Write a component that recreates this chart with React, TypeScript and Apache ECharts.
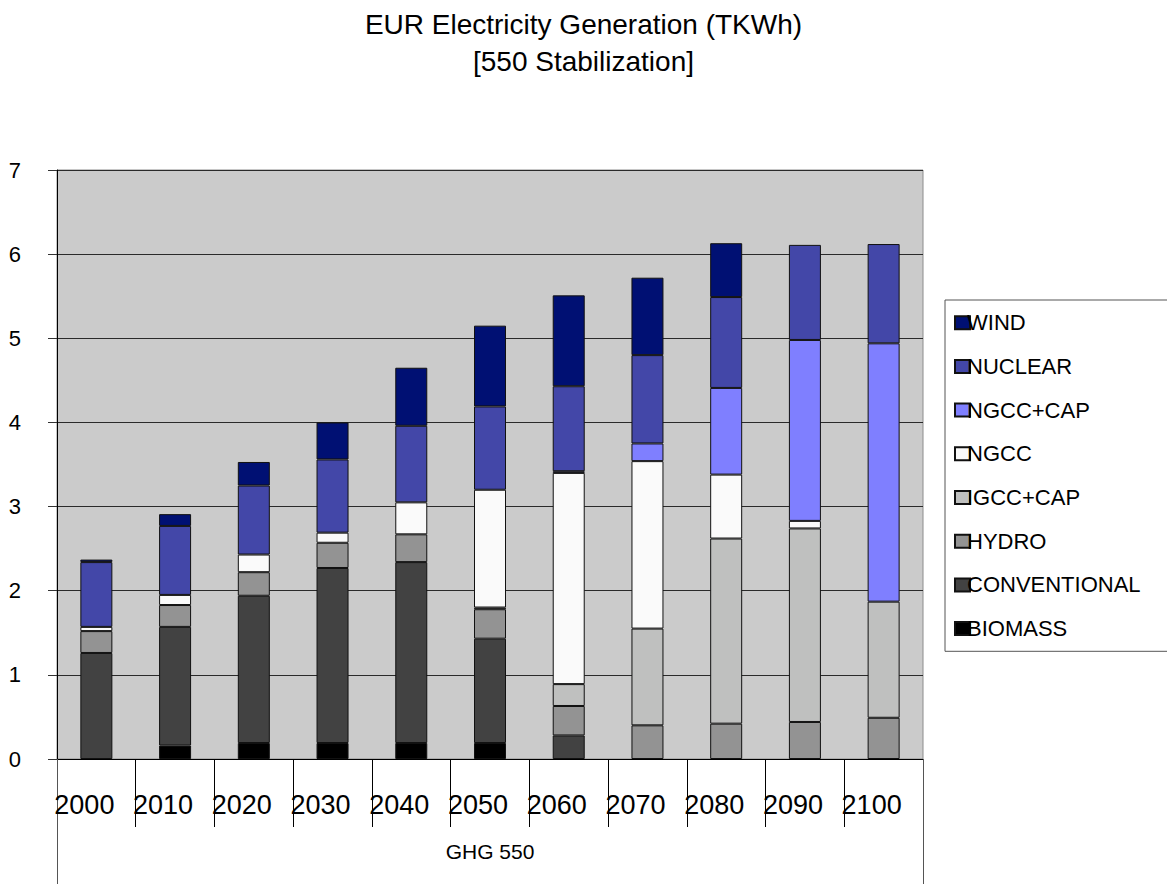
import React, { useEffect, useRef } from "react";
import * as echarts from "echarts";

const years = ["2000", "2010", "2020", "2030", "2040", "2050", "2060", "2070", "2080", "2090", "2100"];
const groupLabel = ["GHG 550"];
const yTicks = [0, 1, 2, 3, 4, 5, 6, 7];

const biomass = [0, 0.16, 0.19, 0.19, 0.19, 0.19, 0, 0, 0, 0, 0];
const conventional = [1.26, 1.41, 1.75, 2.08, 2.15, 1.24, 0.28, 0, 0, 0, 0];
const hydro = [0.26, 0.26, 0.28, 0.3, 0.33, 0.35, 0.35, 0.4, 0.42, 0.44, 0.49];
const igccCap = [0, 0, 0, 0, 0, 0.02, 0.26, 1.15, 2.2, 2.3, 1.38];
const ngcc = [0.05, 0.12, 0.21, 0.12, 0.38, 1.4, 2.51, 1.99, 0.76, 0.09, 0];
const ngccCap = [0, 0, 0, 0, 0, 0, 0.02, 0.21, 1.03, 2.15, 3.07];
const nuclear = [0.77, 0.82, 0.82, 0.87, 0.91, 0.99, 1.01, 1.05, 1.08, 1.13, 1.18];
const wind = [0.03, 0.14, 0.28, 0.44, 0.69, 0.96, 1.08, 0.92, 0.64, 0, 0];

const seriesDefs = [
  { name: "BIOMASS", data: biomass, color: "#000000" },
  { name: "CONVENTIONAL", data: conventional, color: "#424242" },
  { name: "HYDRO", data: hydro, color: "#939393" },
  { name: "IGCC+CAP", data: igccCap, color: "#bfc0bf" },
  { name: "NGCC", data: ngcc, color: "#fafafa" },
  { name: "NGCC+CAP", data: ngccCap, color: "#7f7fff" },
  { name: "NUCLEAR", data: nuclear, color: "#4347a8" },
  { name: "WIND", data: wind, color: "#001073" },
];

const legendOrder = ["WIND", "NUCLEAR", "NGCC+CAP", "NGCC", "IGCC+CAP", "HYDRO", "CONVENTIONAL", "BIOMASS"];

const FONT = "Liberation Sans";

export default function App() {
  const ref = useRef<HTMLDivElement>(null);
  useEffect(() => {
    if (!ref.current) return;
    const chart = echarts.init(ref.current, null, { renderer: "svg" });
    chart.setOption({
      animation: false,
      backgroundColor: "#ffffff",
      title: {
        text: "EUR Electricity Generation (TKWh)\n[550 Stabilization]",
        left: "center",
        top: 6,
        padding: 0,
        textStyle: { fontFamily: FONT, fontSize: 28, fontWeight: "normal", color: "#000", lineHeight: 37 },
      },
      legend: {
        orient: "vertical",
        left: 945,
        top: 300,
        data: legendOrder,
        icon: "rect",
        itemWidth: 15,
        itemHeight: 13,
        itemGap: 21.7,
        padding: [11.7, 120, 11.7, 9],
        borderColor: "#555",
        borderWidth: 1,
        backgroundColor: "#fff",
        textStyle: { fontFamily: FONT, fontSize: 22, color: "#000", lineHeight: 20, padding: [0, 0, 0, -8] },
      },
      grid: {
        left: 57,
        right: 244,
        top: 170,
        bottom: 125,
        outerBoundsMode: "none",
        containLabel: false,
        show: true,
        backgroundColor: "#cbcbcb",
        borderColor: "#8c8c8c",
        borderWidth: 1,
      },
      xAxis: [
        {
          type: "category",
          data: years,
          position: "bottom",
          axisLine: { show: true, lineStyle: { color: "#000", width: 1 } },
          axisTick: { show: true, length: 68, alignWithLabel: false, lineStyle: { color: "#000", width: 1 } },
          axisLabel: {
            fontFamily: FONT,
            fontSize: 27,
            color: "#000",
            margin: 32,
            padding: [0, 24, 0, 0],
            interval: 0,
          },
        },
        {
          type: "category",
          data: groupLabel,
          position: "bottom",
          offset: 0,
          axisLine: { show: false },
          axisTick: { show: true, length: 125, alignWithLabel: false, lineStyle: { color: "#555", width: 1 } },
          axisLabel: { fontFamily: FONT, fontSize: 21, color: "#000", margin: 82 },
        },
      ],
      yAxis: {
        type: "value",
        min: yTicks[0],
        max: yTicks[yTicks.length - 1],
        interval: 1,
        axisLine: { show: true, lineStyle: { color: "#000", width: 1 } },
        axisTick: { show: true, length: 9, lineStyle: { color: "#333" } },
        axisLabel: { fontFamily: FONT, fontSize: 22, color: "#000", margin: 36, align: "right" },
        splitLine: { show: true, lineStyle: { color: "#2a2a2a", width: 1 } },
      },
      series: seriesDefs.map((s) => ({
        name: s.name,
        type: "bar",
        stack: "total",
        barWidth: 32,
        xAxisIndex: 0,
        data: s.data.map((v) => (v === 0 ? null : v)),
        itemStyle: { color: s.color, borderColor: "#111", borderWidth: 1 },
      })),
    });
    return () => chart.dispose();
  }, []);
  return <div ref={ref} style={{ width: 1167, height: 884, position: "absolute", left: 0, top: 0 }} />;
}
